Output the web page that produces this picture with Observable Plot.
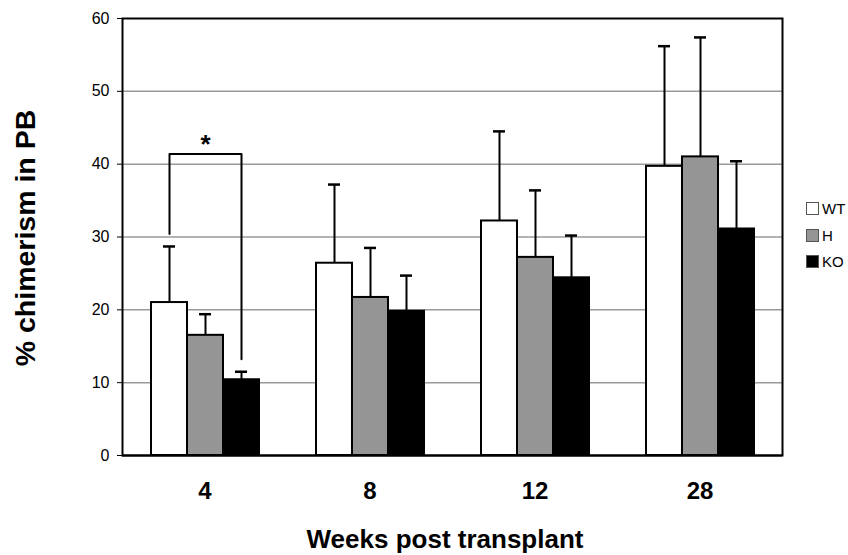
<!DOCTYPE html>
<html><head><meta charset="utf-8">
<script src="https://cdn.jsdelivr.net/npm/d3@7"></script>
<script src="https://cdn.jsdelivr.net/npm/@observablehq/plot@0.6"></script>
<style>
body{margin:0;background:#fff;font-family:"Liberation Sans",Arial,sans-serif;}
#wrap{position:relative;width:848px;height:555px;overflow:hidden;background:#fff;}
#legend{position:absolute;left:806px;top:202px;font-size:15px;color:#000;}
#legend .row{display:flex;align-items:center;height:13px;margin-bottom:13.5px;white-space:nowrap;}
#legend .sw{width:11px;height:11px;border:1px solid #555;margin-right:3px;flex:none;}
</style></head><body>
<div id="wrap"><div id="chart"></div><div id="legend"></div></div>
<script>
const weeks = ["4", "8", "12", "28"];
const groups = ["WT", "H", "KO"];
const wtMean = [21.0, 26.4, 32.2, 39.7];
const wtErr  = [7.7, 10.8, 12.3, 16.5];
const hMean  = [16.5, 21.7, 27.2, 41.0];
const hErr   = [2.9, 6.8, 9.2, 16.4];
const koMean = [10.4, 19.8, 24.4, 31.1];
const koErr  = [1.1, 4.9, 5.8, 9.3];
const groupColors = ["#ffffff", "#959595", "#000000"];
const yTicks = [0, 10, 20, 30, 40, 50, 60];
// significance bracket (week 4, WT vs KO)
const bracketWeek = "4";
const bracketGroups = ["WT", "WT", "KO", "KO"];
const bracketValues = [30.4, 41.4, 41.4, 13.2];
const starLabel = "*";
const xTitle = "Weeks post transplant";
const yTitle = "% chimerism in PB";

const means = [wtMean, hMean, koMean];
const errs = [wtErr, hErr, koErr];
const data = weeks.flatMap((w, i) => groups.map((g, j) => ({week: w, group: g, mean: means[j][i], err: errs[j][i]})));
const bracket = bracketGroups.map((g, i) => ({week: bracketWeek, group: g, v: bracketValues[i]}));

const chart = Plot.plot({
  width: 848, height: 555,
  marginLeft: 120, marginRight: 65, marginTop: 18, marginBottom: 100,
  style: {fontFamily: "Liberation Sans, Arial, sans-serif", background: "#fff", color: "#000"},
  fx: {domain: weeks, padding: 0, label: null},
  x: {domain: groups, paddingInner: 0, paddingOuter: 0.755, axis: null},
  y: {domain: [0, 60], label: null},
  color: {domain: groups, range: groupColors},
  marks: [
    Plot.gridY(yTicks.slice(1, -1), {stroke: "#9a9a9a", strokeOpacity: 1, strokeWidth: 1.5}),
    Plot.ruleX(data, {fx: "week", x: "group", y1: "mean", y2: d => d.mean + d.err, stroke: "#000", strokeWidth: 2}),
    Plot.tickY(data, {fx: "week", x: "group", y: d => d.mean + d.err, stroke: "#000", strokeWidth: 2.5, insetLeft: 12, insetRight: 12}),
    Plot.barY(data, {fx: "week", x: "group", y: "mean", fill: "group", stroke: "#000", strokeWidth: 2}),
    Plot.line(bracket, {fx: "week", x: "group", y: "v", stroke: "#000", strokeWidth: 2}),
    Plot.text([starLabel], {fx: () => bracketWeek, x: () => "H", y: () => bracketValues[1], text: d => d, lineAnchor: "bottom", fontSize: 26, fontWeight: "bold", dy: -1}),
    Plot.ruleY([0], {stroke: "#000", strokeWidth: 2}),
    Plot.frame({facet: "super", stroke: "#000", strokeWidth: 2}),
    Plot.axisY({ticks: yTicks, tickSize: 5, tickPadding: 8, fontSize: 16, tickFormat: d => d, label: null}),
    Plot.axisFx({anchor: "bottom", tickSize: 0, tickPadding: 26, fontSize: 24, fontWeight: "bold", label: null})
  ]
});
document.getElementById("chart").append(chart);

const svg = d3.select(chart);
svg.append("text").attr("x", 445).attr("y", 548).attr("text-anchor", "middle")
  .attr("font-size", 26).attr("font-weight", "bold").attr("fill", "#000").text(xTitle);
svg.append("text").attr("transform", "translate(35,238) rotate(-90)").attr("text-anchor", "middle")
  .attr("font-size", 28.5).attr("font-weight", "bold").attr("fill", "#000").text(yTitle);

const legend = d3.select("#legend");
groups.forEach((g, i) => {
  const row = legend.append("div").attr("class", "row");
  row.append("div").attr("class", "sw").style("background", groupColors[i]);
  row.append("span").text(g);
});
</script>
</body></html>
